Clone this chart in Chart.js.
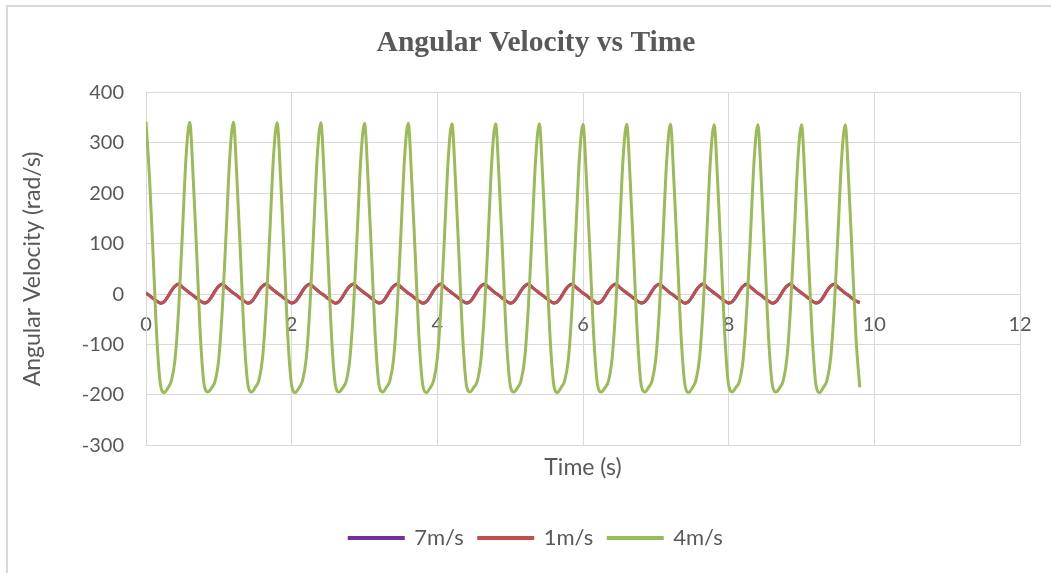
<!DOCTYPE html>
<html>
<head>
<meta charset="utf-8">
<script src="https://cdn.jsdelivr.net/npm/chart.js@4.4.0/dist/chart.umd.min.js"></script>
<style>
    html, body { margin: 0; padding: 0; background: #ffffff; overflow: hidden; }
    #frame {
        position: absolute; left: 6px; top: 5px; width: 1100px; height: 620px;
        border: 2px solid #d9d9d9; box-sizing: border-box;
    }
    #wrap { position: absolute; left: 0; top: 0; width: 1051px; height: 573px; }
</style>
</head>
<body>
<div id="frame"></div>
<div id="wrap"><canvas id="velocityChart"></canvas></div>
<script>
// ===== Angular velocity vs time =====

// time (s), one row per oscillation
const tempos = [
    0, 0.05, 0.1, 0.15, 0.2, 0.25, 0.3, 0.35, 0.4, 0.45, 0.5, 0.55,
    0.6, 0.65, 0.7, 0.75, 0.8, 0.85, 0.9, 0.95, 1, 1.05, 1.1, 1.15,
    1.2, 1.25, 1.3, 1.35, 1.4, 1.45, 1.5, 1.55, 1.6, 1.65, 1.7, 1.75,
    1.8, 1.85, 1.9, 1.95, 2, 2.05, 2.1, 2.15, 2.2, 2.25, 2.3, 2.35,
    2.4, 2.45, 2.5, 2.55, 2.6, 2.65, 2.7, 2.75, 2.8, 2.85, 2.9, 2.95,
    3, 3.05, 3.1, 3.15, 3.2, 3.25, 3.3, 3.35, 3.4, 3.45, 3.5, 3.55,
    3.6, 3.65, 3.7, 3.75, 3.8, 3.85, 3.9, 3.95, 4, 4.05, 4.1, 4.15,
    4.2, 4.25, 4.3, 4.35, 4.4, 4.45, 4.5, 4.55, 4.6, 4.65, 4.7, 4.75,
    4.8, 4.85, 4.9, 4.95, 5, 5.05, 5.1, 5.15, 5.2, 5.25, 5.3, 5.35,
    5.4, 5.45, 5.5, 5.55, 5.6, 5.65, 5.7, 5.75, 5.8, 5.85, 5.9, 5.95,
    6, 6.05, 6.1, 6.15, 6.2, 6.25, 6.3, 6.35, 6.4, 6.45, 6.5, 6.55,
    6.6, 6.65, 6.7, 6.75, 6.8, 6.85, 6.9, 6.95, 7, 7.05, 7.1, 7.15,
    7.2, 7.25, 7.3, 7.35, 7.4, 7.45, 7.5, 7.55, 7.6, 7.65, 7.7, 7.75,
    7.8, 7.85, 7.9, 7.95, 8, 8.05, 8.1, 8.15, 8.2, 8.25, 8.3, 8.35,
    8.4, 8.45, 8.5, 8.55, 8.6, 8.65, 8.7, 8.75, 8.8, 8.85, 8.9, 8.95,
    9, 9.05, 9.1, 9.15, 9.2, 9.25, 9.3, 9.35, 9.4, 9.45, 9.5, 9.55,
    9.6, 9.65, 9.7, 9.75, 9.8
];

// 7m/s (hidden under the 1m/s line in the original)
const omega7 = [
    2, -3, -9, -14, -18, -15, -5, 7, 16, 20, 14, 8,
    2, -3, -9, -14, -18, -15, -5, 7, 16, 20, 14, 8,
    2, -3, -9, -14, -18, -15, -5, 7, 16, 20, 14, 8,
    2, -3, -9, -14, -18, -15, -5, 7, 16, 20, 14, 8,
    2, -3, -9, -14, -18, -15, -5, 7, 16, 20, 14, 8,
    2, -3, -9, -14, -18, -15, -5, 7, 16, 20, 14, 8,
    2, -3, -9, -14, -18, -15, -5, 7, 16, 20, 14, 8,
    2, -3, -9, -14, -18, -15, -5, 7, 16, 20, 14, 8,
    2, -3, -9, -14, -18, -15, -5, 7, 16, 20, 14, 8,
    2, -3, -9, -14, -18, -15, -5, 7, 16, 20, 14, 8,
    2, -3, -9, -14, -18, -15, -5, 7, 16, 20, 14, 8,
    2, -3, -9, -14, -18, -15, -5, 7, 16, 20, 14, 8,
    2, -3, -9, -14, -18, -15, -5, 7, 16, 20, 14, 8,
    2, -3, -9, -14, -18, -15, -5, 7, 16, 20, 14, 8,
    2, -3, -9, -14, -18, -15, -5, 7, 16, 20, 14, 8,
    2, -3, -9, -14, -18, -15, -5, 7, 16, 20, 14, 8,
    2, -3, -9, -14, -17
];

// 1m/s
const omega1 = [
    3, -3, -9, -14, -18, -15, -5, 7, 16, 20, 14, 8,
    3, -3, -8, -14, -17, -15, -6, 6, 16, 19, 14, 8,
    2, -3, -9, -14, -18, -15, -5, 7, 16, 20, 14, 8,
    3, -3, -8, -14, -17, -15, -6, 6, 16, 19, 14, 8,
    2, -3, -9, -14, -18, -15, -5, 7, 16, 20, 14, 8,
    3, -3, -8, -14, -17, -15, -6, 6, 16, 19, 14, 8,
    2, -3, -9, -14, -18, -15, -5, 7, 16, 20, 14, 8,
    3, -3, -8, -14, -17, -15, -6, 6, 16, 19, 14, 8,
    2, -3, -9, -14, -18, -15, -5, 7, 16, 20, 14, 8,
    3, -3, -8, -14, -17, -15, -6, 6, 16, 19, 14, 8,
    2, -3, -9, -14, -18, -15, -5, 7, 16, 20, 14, 8,
    3, -3, -8, -14, -17, -15, -6, 6, 16, 19, 14, 8,
    2, -3, -9, -14, -18, -15, -5, 7, 16, 20, 14, 8,
    3, -3, -8, -14, -17, -15, -6, 6, 16, 19, 14, 8,
    2, -3, -9, -14, -18, -15, -5, 7, 16, 20, 14, 8,
    3, -3, -8, -14, -17, -15, -6, 6, 16, 19, 14, 8,
    2, -3, -9, -14, -16
];

// 4m/s
const omega4 = [
    342, 226, 70, -90, -181, -195, -186, -171, -128, -25, 122, 272,
    341, 225, 69, -91, -181, -194, -186, -172, -127, -24, 121, 271,
    341, 224, 69, -90, -180, -194, -185, -171, -127, -25, 121, 271,
    340, 224, 68, -91, -181, -195, -186, -171, -128, -26, 120, 270,
    340, 223, 68, -90, -180, -194, -186, -172, -127, -25, 121, 270,
    339, 223, 67, -90, -181, -194, -185, -171, -128, -26, 120, 270,
    339, 222, 67, -91, -180, -195, -186, -171, -127, -25, 120, 269,
    338, 222, 66, -90, -181, -194, -185, -172, -128, -26, 119, 269,
    338, 221, 66, -91, -180, -194, -186, -171, -127, -25, 120, 268,
    338, 221, 65, -90, -181, -195, -185, -171, -128, -26, 119, 268,
    337, 220, 65, -91, -180, -194, -186, -172, -127, -25, 119, 268,
    337, 220, 64, -90, -181, -194, -185, -171, -128, -26, 118, 267,
    337, 219, 64, -91, -180, -195, -186, -171, -127, -25, 119, 267,
    336, 219, 63, -90, -181, -194, -185, -172, -128, -26, 118, 267,
    336, 218, 63, -91, -180, -194, -186, -171, -127, -25, 118, 266,
    336, 218, 62, -90, -181, -195, -185, -171, -128, -26, 117, 266,
    336, 217, 62, -91, -185
];

const nomesSeries = ['7m/s', '1m/s', '4m/s'];
const coresSeries = ['#7030a0', '#c0504d', '#9bbb59'];

const textColor = '#595959';
const gridColor = '#d9d9d9';

function pontos(valores) {
    return tempos.map((t, i) => ({ x: t, y: valores[i] }));
}

function serie(idx, valores, ordem) {
    return {
        label: nomesSeries[idx],
        data: pontos(valores),
        borderColor: coresSeries[idx],
        backgroundColor: coresSeries[idx],
        borderWidth: 3,
        pointRadius: 0,
        cubicInterpolationMode: 'monotone',
        order: ordem
    };
}

const ctx = document.getElementById('velocityChart').getContext('2d');

new Chart(ctx, {
    type: 'line',
    data: {
        datasets: [
            serie(0, omega7, 3),
            serie(1, omega1, 2),
            serie(2, omega4, 1)
        ]
    },
    options: {
        responsive: true,
        maintainAspectRatio: false,
        animation: false,
        layout: { padding: { left: 52, right: 31, top: 8, bottom: 14 } },
        plugins: {
            title: {
                display: true,
                text: 'Angular Velocity vs Time',
                color: textColor,
                font: { family: 'Liberation Serif', size: 29.5, weight: 'bold' },
                padding: { top: 18, bottom: 31 }
            },
            legend: {
                position: 'bottom',
                labels: {
                    color: textColor,
                    font: { family: 'Lato', size: 22 },
                    boxWidth: 54,
                    boxHeight: 1,
                    padding: 15,
                    sort: (a, b) => a.datasetIndex - b.datasetIndex
                }
            },
            tooltip: { enabled: false }
        },
        scales: {
            x: {
                type: 'linear',
                position: { y: 0 },
                min: 0,
                max: 12,
                ticks: {
                    stepSize: 2,
                    color: textColor,
                    font: { family: 'Lato', size: 20 },
                    padding: 18,
                    maxRotation: 0
                },
                grid: { color: gridColor, drawTicks: false },
                border: { color: gridColor }
            },
            xTitulo: {
                type: 'linear',
                axis: 'x',
                position: 'bottom',
                min: 0,
                max: 12,
                ticks: { display: false },
                grid: { display: false, drawTicks: false },
                border: { display: false },
                title: {
                    display: true,
                    text: 'Time (s)',
                    color: textColor,
                    font: { family: 'Lato', size: 23 },
                    padding: { top: 8, bottom: 31 }
                }
            },
            y: {
                min: -300,
                max: 400,
                ticks: {
                    stepSize: 100,
                    color: textColor,
                    font: { family: 'Lato', size: 20 },
                    padding: 22
                },
                grid: { color: gridColor, drawTicks: false },
                border: { color: gridColor },
                title: {
                    display: true,
                    text: 'Angular Velocity (rad/s)',
                    color: textColor,
                    font: { family: 'Lato', size: 23 },
                    padding: { top: -33, bottom: 0 }
                },
                afterFit: (scale) => { scale.width = 94; }
            }
        }
    }
});
</script>
</body>
</html>
